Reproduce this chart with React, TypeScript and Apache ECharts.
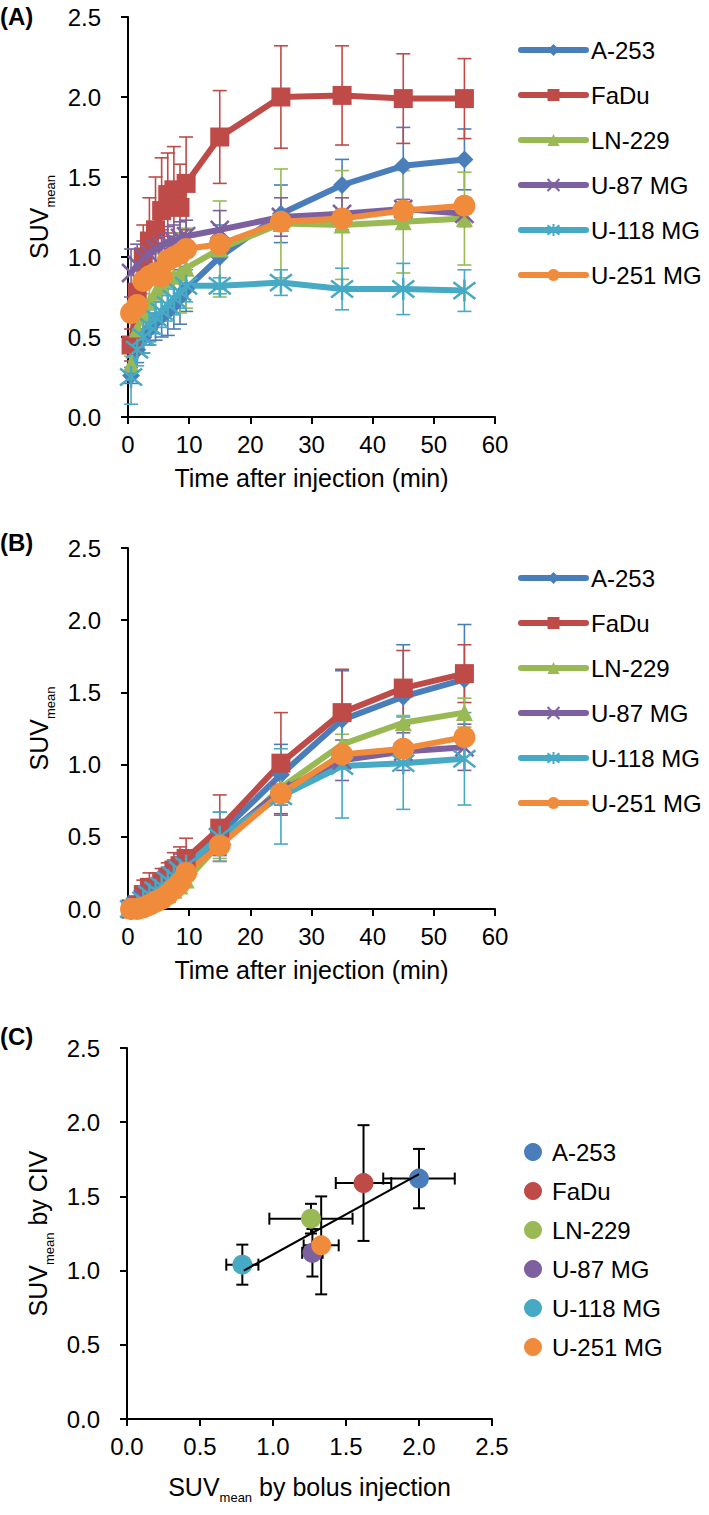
import React, { useEffect, useRef } from 'react';
import * as echarts from 'echarts';

// ---------- data ----------
const NAMES = ['A-253', 'FaDu', 'LN-229', 'U-87 MG', 'U-118 MG', 'U-251 MG'];
const TIMES = [0.5, 1.5, 2.5, 3.5, 4.5, 5.5, 6.5, 7.5, 8.5, 9.5, 15, 25, 35, 45, 55];

// Panel A (bolus)
const A_A253 = [0.26, 0.42, 0.5, 0.55, 0.6, 0.63, 0.66, 0.7, 0.75, 0.8, 1.0, 1.27, 1.45, 1.57, 1.61];
const A_A253_ERR = [0.05, 0.08, 0.1, 0.1, 0.12, 0.13, 0.15, 0.15, 0.17, 0.14, 0.2, 0.18, 0.16, 0.24, 0.19];
const A_FADU = [0.45, 0.78, 1.0, 1.1, 1.17, 1.29, 1.39, 1.42, 1.31, 1.46, 1.75, 2.0, 2.01, 1.99, 1.99];
const A_FADU_ERR = [0.1, 0.15, 0.2, 0.27, 0.33, 0.33, 0.26, 0.27, 0.27, 0.29, 0.29, 0.32, 0.31, 0.28, 0.25];
const A_LN229 = [0.33, 0.55, 0.65, 0.72, 0.78, 0.82, 0.86, 0.88, 0.9, 0.93, 1.05, 1.21, 1.2, 1.22, 1.24];
const A_LN229_ERR = [0.05, 0.1, 0.12, 0.15, 0.18, 0.2, 0.22, 0.24, 0.25, 0.25, 0.3, 0.34, 0.34, 0.32, 0.29];
const A_U87 = [0.9, 0.95, 1.0, 1.02, 1.05, 1.07, 1.09, 1.1, 1.12, 1.13, 1.17, 1.25, 1.27, 1.3, 1.27];
const A_U87_ERR = [0.15, 0.13, 0.1, 0.1, 0.1, 0.1, 0.1, 0.1, 0.1, 0.1, 0.12, 0.12, 0.1, 0.06, 0.08];
const A_U118 = [0.25, 0.42, 0.5, 0.57, 0.62, 0.66, 0.7, 0.74, 0.78, 0.82, 0.82, 0.84, 0.8, 0.8, 0.79];
const A_U118_ERR = [0.17, 0.1, 0.1, 0.1, 0.1, 0.1, 0.1, 0.1, 0.1, 0.1, 0.05, 0.08, 0.13, 0.16, 0.13];
const A_U251 = [0.65, 0.7, 0.85, 0.88, 0.9, 0.88, 0.98, 1.0, 1.02, 1.05, 1.08, 1.22, 1.24, 1.29, 1.32];
const A_U251_ERR = [0.05, 0.05, 0.05, 0.05, 0.05, 0.05, 0.05, 0.05, 0.05, 0.05, 0.05, 0.05, 0.05, 0.05, 0.05];

// Panel B (CIV)
const B_A253 = [0, 0.02, 0.06, 0.1, 0.13, 0.16, 0.2, 0.24, 0.28, 0.31, 0.52, 0.93, 1.31, 1.47, 1.59];
const B_A253_ERR = [0.02, 0.05, 0.05, 0.06, 0.07, 0.08, 0.09, 0.1, 0.1, 0.1, 0.15, 0.21, 0.34, 0.36, 0.38];
const B_FADU = [0, 0.03, 0.1, 0.15, 0.15, 0.18, 0.22, 0.27, 0.3, 0.35, 0.56, 1.01, 1.36, 1.53, 1.63];
const B_FADU_ERR = [0.02, 0.05, 0.1, 0.1, 0.1, 0.1, 0.1, 0.12, 0.13, 0.14, 0.23, 0.35, 0.3, 0.26, 0.2];
const B_LN229 = [0, 0, 0.01, 0.03, 0.05, 0.07, 0.1, 0.13, 0.16, 0.2, 0.45, 0.84, 1.14, 1.29, 1.36];
const B_LN229_ERR = [0.01, 0.02, 0.03, 0.03, 0.04, 0.04, 0.05, 0.05, 0.05, 0.05, 0.1, 0.08, 0.07, 0.05, 0.1];
const B_U87 = [0, 0.03, 0.07, 0.1, 0.13, 0.16, 0.2, 0.23, 0.27, 0.3, 0.48, 0.82, 1.03, 1.09, 1.12];
const B_U87_ERR = [0.02, 0.03, 0.04, 0.05, 0.05, 0.05, 0.06, 0.06, 0.06, 0.06, 0.1, 0.17, 0.14, 0.13, 0.16];
const B_U118 = [0, 0.02, 0.06, 0.1, 0.13, 0.16, 0.2, 0.23, 0.27, 0.3, 0.5, 0.78, 0.99, 1.01, 1.04];
const B_U118_ERR = [0.05, 0.05, 0.06, 0.07, 0.07, 0.08, 0.08, 0.09, 0.09, 0.1, 0.17, 0.33, 0.36, 0.32, 0.32];
const B_U251 = [0, 0, 0.01, 0.03, 0.05, 0.07, 0.1, 0.14, 0.18, 0.25, 0.44, 0.8, 1.07, 1.11, 1.19];
const B_U251_ERR = [0.01, 0.02, 0.03, 0.03, 0.04, 0.04, 0.04, 0.05, 0.05, 0.05, 0.05, 0.06, 0.05, 0.05, 0.05];

// Panel C (bolus vs CIV), order as NAMES
const C_BOLUS = [2.0, 1.62, 1.26, 1.27, 0.79, 1.33];
const C_BOLUS_ERR = [0.245, 0.19, 0.285, 0.07, 0.11, 0.12];
const C_CIV = [1.62, 1.59, 1.35, 1.12, 1.04, 1.17];
const C_CIV_ERR = [0.2, 0.39, 0.1, 0.16, 0.135, 0.33];
const TREND_X = [0.8, 2.0];
const TREND_Y = [1.0, 1.65];

const A_MEANS = [A_A253, A_FADU, A_LN229, A_U87, A_U118, A_U251];
const A_ERRS = [A_A253_ERR, A_FADU_ERR, A_LN229_ERR, A_U87_ERR, A_U118_ERR, A_U251_ERR];
const B_MEANS = [B_A253, B_FADU, B_LN229, B_U87, B_U118, B_U251];
const B_ERRS = [B_A253_ERR, B_FADU_ERR, B_LN229_ERR, B_U87_ERR, B_U118_ERR, B_U251_ERR];

// ---------- styles ----------
const COLORS = ['#4A7EBB', '#BE4B48', '#98B954', '#7D60A0', '#46AAC5', '#F08B3C'];
const SYMBOLS = [
  'diamond',
  'rect',
  'triangle',
  'path://M0,0L10,10M10,0L0,10',
  'path://M0,0L10,10M10,0L0,10M5,-1.5L5,11.5',
  'circle',
];
const SYMBOL_SIZES = [18, 19, 17, 18, 22, 22];
const SYMBOL_BORDERS = [0, 0, 0, 2.5, 2.5, 0];
const FONT = '"Liberation Sans", Arial, Helvetica, sans-serif';

const richName = {
  s: { fontSize: 25, lineHeight: 27, verticalAlign: 'top', color: '#000', fontFamily: FONT },
  m: { fontSize: 13, lineHeight: 13, verticalAlign: 'top', padding: [17, 0, 0, 0], color: '#000', fontFamily: FONT },
};

function xAxisCfg(gridIndex: number, max: number, interval: number, decimals: number, name: string, nameGap: number, rich: boolean) {
  return {
    type: 'value',
    gridIndex,
    min: 0,
    max,
    interval,
    name,
    nameLocation: 'middle',
    nameGap,
    nameTextStyle: rich ? { rich: richName } : { fontSize: 25, color: '#000', fontFamily: FONT },
    axisLine: { show: true, onZero: false, lineStyle: { color: '#000', width: 2 } },
    axisTick: { show: true, length: 7, lineStyle: { color: '#000', width: 2 } },
    axisLabel: { fontSize: 24, color: '#000', fontFamily: FONT, margin: 15, formatter: (v: number) => v.toFixed(decimals) },
    splitLine: { show: false },
  };
}

function yAxisCfg(gridIndex: number, name: string, nameGap: number) {
  return {
    type: 'value',
    gridIndex,
    min: 0,
    max: 2.5,
    interval: 0.5,
    name,
    nameLocation: 'middle',
    nameRotate: 90,
    nameGap,
    nameTextStyle: { rich: richName },
    axisLine: { show: true, onZero: false, lineStyle: { color: '#000', width: 2 } },
    axisTick: { show: true, length: 7, lineStyle: { color: '#000', width: 2 } },
    axisLabel: { fontSize: 24, color: '#000', fontFamily: FONT, margin: 27, formatter: (v: number) => v.toFixed(1) },
    splitLine: { show: false },
  };
}

function errBars(axisIndex: number, data: number[][], color: string, capHalf: number, width: number, xBars: boolean) {
  return {
    type: 'custom',
    xAxisIndex: axisIndex,
    yAxisIndex: axisIndex,
    silent: true,
    data,
    encode: { x: 0, y: 1 },
    renderItem: (params: any, api: any) => {
      const x = api.value(0);
      const y = api.value(1);
      const ey = xBars ? api.value(3) : api.value(2);
      const st = { stroke: color, lineWidth: width };
      const hi = api.coord([x, y + ey]);
      const lo = api.coord([x, y - ey]);
      const children: any[] = [
        { type: 'line', shape: { x1: hi[0], y1: hi[1], x2: lo[0], y2: lo[1] }, style: st },
        { type: 'line', shape: { x1: hi[0] - capHalf, y1: hi[1], x2: hi[0] + capHalf, y2: hi[1] }, style: st },
        { type: 'line', shape: { x1: lo[0] - capHalf, y1: lo[1], x2: lo[0] + capHalf, y2: lo[1] }, style: st },
      ];
      if (xBars) {
        const ex = api.value(2);
        const l = api.coord([x - ex, y]);
        const r = api.coord([x + ex, y]);
        children.push(
          { type: 'line', shape: { x1: l[0], y1: l[1], x2: r[0], y2: r[1] }, style: st },
          { type: 'line', shape: { x1: l[0], y1: l[1] - capHalf, x2: l[0], y2: l[1] + capHalf }, style: st },
          { type: 'line', shape: { x1: r[0], y1: r[1] - capHalf, x2: r[0], y2: r[1] + capHalf }, style: st },
        );
      }
      return { type: 'group', children };
    },
  };
}

function timeSeries(axisIndex: number, means: number[][], errs: number[][]) {
  const out: any[] = [];
  NAMES.forEach((name, i) => {
    out.push(errBars(axisIndex, TIMES.map((t, k) => [t, means[i][k], errs[i][k]]), COLORS[i], 7, 1.6, false));
    out.push({
      type: 'line',
      name,
      xAxisIndex: axisIndex,
      yAxisIndex: axisIndex,
      data: TIMES.map((t, k) => [t, means[i][k]]),
      symbol: SYMBOLS[i],
      symbolSize: SYMBOL_SIZES[i],
      showSymbol: true,
      lineStyle: { color: COLORS[i], width: 6 },
      itemStyle: { color: COLORS[i], borderColor: COLORS[i], borderWidth: SYMBOL_BORDERS[i] },
      emphasis: { disabled: true },
    });
  });
  return out;
}

function lineLegend(top: number) {
  return {
    orient: 'vertical',
    left: 513,
    top,
    itemWidth: 65,
    itemHeight: 15,
    itemGap: 21,
    data: NAMES,
    selectedMode: false,
    lineStyle: { width: 6, cap: 'round' },
    textStyle: { fontSize: 24, color: '#000', fontFamily: FONT },
  };
}

export default function App() {
  const ref = useRef<HTMLDivElement>(null);
  useEffect(() => {
    if (!ref.current) return;
    const chart = echarts.init(ref.current, undefined, { renderer: 'svg' });
    const series: any[] = [
      ...timeSeries(0, A_MEANS, A_ERRS),
      ...timeSeries(1, B_MEANS, B_ERRS),
    ];
    series.push(
      errBars(2, NAMES.map((_, i) => [C_BOLUS[i], C_CIV[i], C_BOLUS_ERR[i], C_CIV_ERR[i]]), '#000', 6, 2, true)
    );
    NAMES.forEach((name, i) => {
      series.push({
        type: 'scatter',
        name,
        xAxisIndex: 2,
        yAxisIndex: 2,
        data: [[C_BOLUS[i], C_CIV[i]]],
        symbol: 'circle',
        symbolSize: 20,
        itemStyle: { color: COLORS[i], opacity: 1 },
        emphasis: { disabled: true },
      });
    });
    series.push({
      type: 'line',
      name: 'trend',
      xAxisIndex: 2,
      yAxisIndex: 2,
      data: TREND_X.map((x, k) => [x, TREND_Y[k]]),
      showSymbol: false,
      symbol: 'none',
      lineStyle: { color: '#000', width: 2 },
      emphasis: { disabled: true },
    });

    chart.setOption({
      animation: false,
      backgroundColor: '#fff',
      textStyle: { fontFamily: FONT },
      grid: [
        { left: 128, top: 17, width: 367, height: 400 },
        { left: 128, top: 548, width: 367, height: 361 },
        { left: 127, top: 1048, width: 365, height: 371 },
      ],
      xAxis: [
        xAxisCfg(0, 60, 10, 0, 'Time after injection (min)', 48, false),
        xAxisCfg(1, 60, 10, 0, 'Time after injection (min)', 48, false),
        xAxisCfg(2, 2.5, 0.5, 1, '{s|SUV}{m|mean}{s| by bolus injection}', 55, true),
      ],
      yAxis: [
        yAxisCfg(0, '{s|SUV}{m|mean}', 68),
        yAxisCfg(1, '{s|SUV}{m|mean}', 68),
        yAxisCfg(2, '{s|SUV}{m|mean}{s| by CIV}', 68),
      ],
      legend: [
        lineLegend(33),
        lineLegend(561),
        {
          orient: 'vertical',
          left: 519,
          top: 1135,
          itemWidth: 28,
          itemHeight: 18,
          itemGap: 15,
          selectedMode: false,
          itemStyle: { borderWidth: 0 },
          data: NAMES.map((n) => ({ name: n, icon: 'circle' })),
          textStyle: { fontSize: 24, color: '#000', fontFamily: FONT },
        },
      ],
      graphic: [
        { type: 'text', left: 0, top: 4, style: { text: '(A)', font: `bold 24px ${FONT}`, fill: '#000' } },
        { type: 'text', left: 0, top: 530, style: { text: '(B)', font: `bold 24px ${FONT}`, fill: '#000' } },
        { type: 'text', left: 0, top: 1024, style: { text: '(C)', font: `bold 24px ${FONT}`, fill: '#000' } },
      ],
      series,
    });
    return () => chart.dispose();
  }, []);
  return <div ref={ref} style={{ position: 'absolute', left: 0, top: 0, width: 709, height: 1515 }} />;
}
